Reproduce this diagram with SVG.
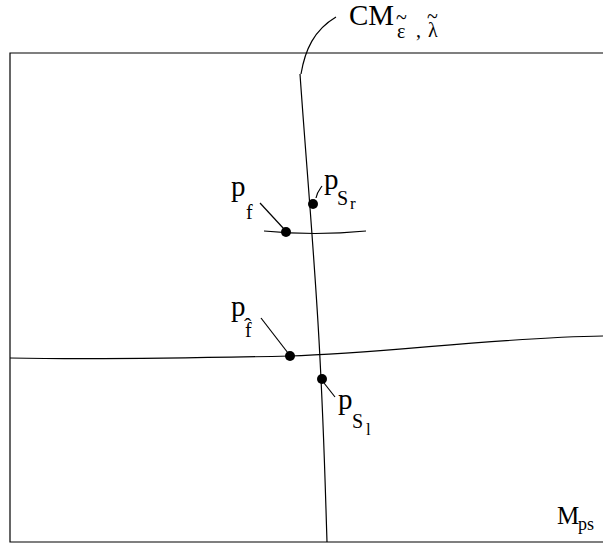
<svg xmlns="http://www.w3.org/2000/svg" width="603" height="545" viewBox="0 0 603 545">
<style>
.ln{fill:none;stroke:#000;stroke-width:1.2}
.dot{fill:#000}
text{font-family:"Liberation Serif","Times New Roman",serif;fill:#000}
.m{font-size:29px}
.s{font-size:20px}
.ss{font-size:17px}
.t{font-size:20px}
</style>
<rect x="0" y="0" width="603" height="545" fill="#fff"/>
<g id="frame"><path class="ln" d="M605,53 H10 V542 H605"/></g>
<g id="connectors">
<path class="ln" d="M300,74 C306,160 314,250 319,340 S325,480 327,542"/>
<path class="ln" d="M301,74 C305,50 314,30 336,17"/>
<path class="ln" d="M10,358 C100,360 200,358 290,356 S500,337 603,336"/>
<path class="ln" d="M264,231 Q315,236 366,231"/>
<path class="ln" d="M260,203 L284,229"/>
<path class="ln" d="M316,198 C317,192 320,189 322,186"/>
<path class="ln" d="M261,318 L288,353"/>
<path class="ln" d="M324,383 L335,397"/>
</g>
<g id="CM">
<text class="m" x="349" y="25">CM</text>
<text class="s" x="397" y="38">ε</text>
<text class="t" x="396" y="24">~</text>
<text class="s" x="416" y="37">,</text>
<text class="s" x="428" y="37">λ</text>
<text class="t" x="427" y="23">~</text>
</g>
<g id="pSr">
<circle class="dot" cx="313" cy="204" r="5"/>
<text class="m" x="324" y="189">p</text>
<text class="s" x="337" y="205">S</text>
<text class="ss" x="350" y="209">r</text>
</g>
<g id="pf">
<circle class="dot" cx="286" cy="232" r="5"/>
<text class="m" x="231" y="196">p</text>
<text class="s" x="246" y="219">f</text>
</g>
<g id="pfhat">
<circle class="dot" cx="290" cy="356" r="5"/>
<text class="m" x="231" y="316">p</text>
<text class="s" x="245" y="337">f</text>
<text class="s" x="244" y="333" style="font-size:22px">ˆ</text>
</g>
<g id="pSl">
<circle class="dot" cx="322" cy="379" r="5"/>
<text class="m" x="338" y="409">p</text>
<text class="s" x="352" y="428">S</text>
<text class="ss" x="366" y="435">l</text>
</g>
<g id="Mps">
<text class="m" x="557" y="524" style="font-size:25px">M</text>
<text class="s" x="578" y="530" style="font-size:18px">ps</text>
</g>
</svg>
